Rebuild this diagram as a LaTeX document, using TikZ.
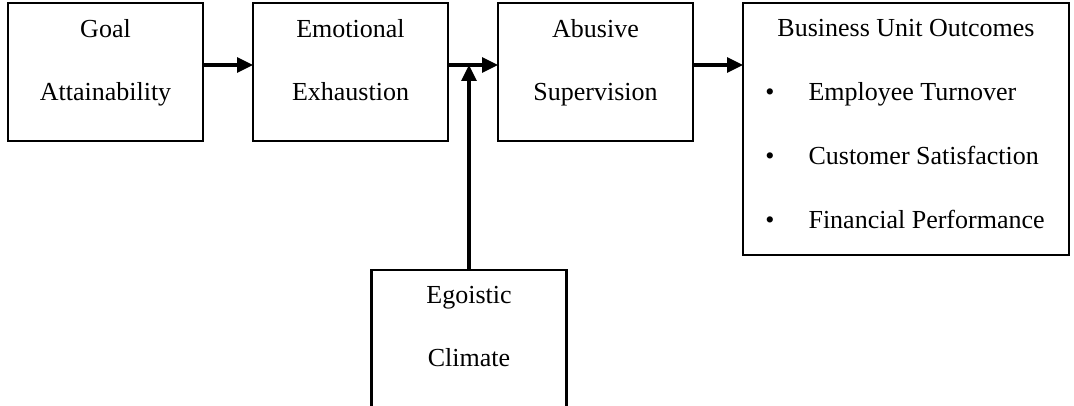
\documentclass[tikz,border=0pt]{standalone}
\usepackage{fontspec}
\setmainfont{Liberation Serif}
\usetikzlibrary{positioning,arrows.meta}

\begin{document}
\begin{tikzpicture}
  \useasboundingbox (0,0) rectangle (537pt,-203pt);
  \begin{scope}[
    node distance=25pt,
    every node/.style={
      draw,
      line width=1.2pt,
      align=center,
      inner sep=0pt,
      outer sep=0pt,
      minimum width=97.5pt,
      minimum height=69pt,
      font=\fontsize{13pt}{31.5pt}\selectfont,
      text depth=12.4pt,
    },
    ]
    \node[anchor=north west] (goal) at (4pt,-1.5pt) {Goal\\Attainability};
    \node[right=of goal] (emotional) {Emotional\\Exhaustion};
    \node[right=of emotional] (abusive) {Abusive\\Supervision};
    \node[
      right=of abusive.north east,
      anchor=north west,
      minimum width=163pt,
      minimum height=126pt,
      text depth={},
      font=\fontsize{13pt}{15.6pt}\selectfont,
    ] (outcomes) {%
      \begin{tabular}{@{}l@{\hspace{17pt}}l@{}}
        \multicolumn{2}{c}{Business Unit Outcomes}\\[16.4pt]
        \textbullet & Employee Turnover\\[16.4pt]
        \textbullet & Customer Satisfaction\\[16.4pt]
        \textbullet & Financial Performance\\[3pt]
      \end{tabular}};
  \end{scope}
  \coordinate[right=10.5pt of emotional.east, yshift=3.5pt] (join);
  \node[
    below=102.5pt of join,
    draw,
    line width=1.2pt,
    align=center,
    inner sep=0pt,
    outer sep=0pt,
    minimum width=97.5pt,
    minimum height=69pt,
    font=\fontsize{13pt}{31.5pt}\selectfont,
    text depth=12.4pt,
  ] (egoistic) {Egoistic\\Climate};
  \begin{scope}[
    every path/.style={draw, line width=1.6pt},
    flow/.style={-{Triangle[length=8pt,width=7.5pt]}},
    ]
    \path[flow] ([yshift=3.5pt]goal.east) -- ([yshift=3.5pt]emotional.west);
    \path[flow] ([yshift=3.5pt]emotional.east) -- ([yshift=3.5pt]abusive.west);
    \path[flow] ([yshift=3.5pt]abusive.east) -- ([yshift=3.5pt]abusive.east -| outcomes.west);
    \path[flow] (egoistic) -- (join);
  \end{scope}
\end{tikzpicture}
\end{document}
